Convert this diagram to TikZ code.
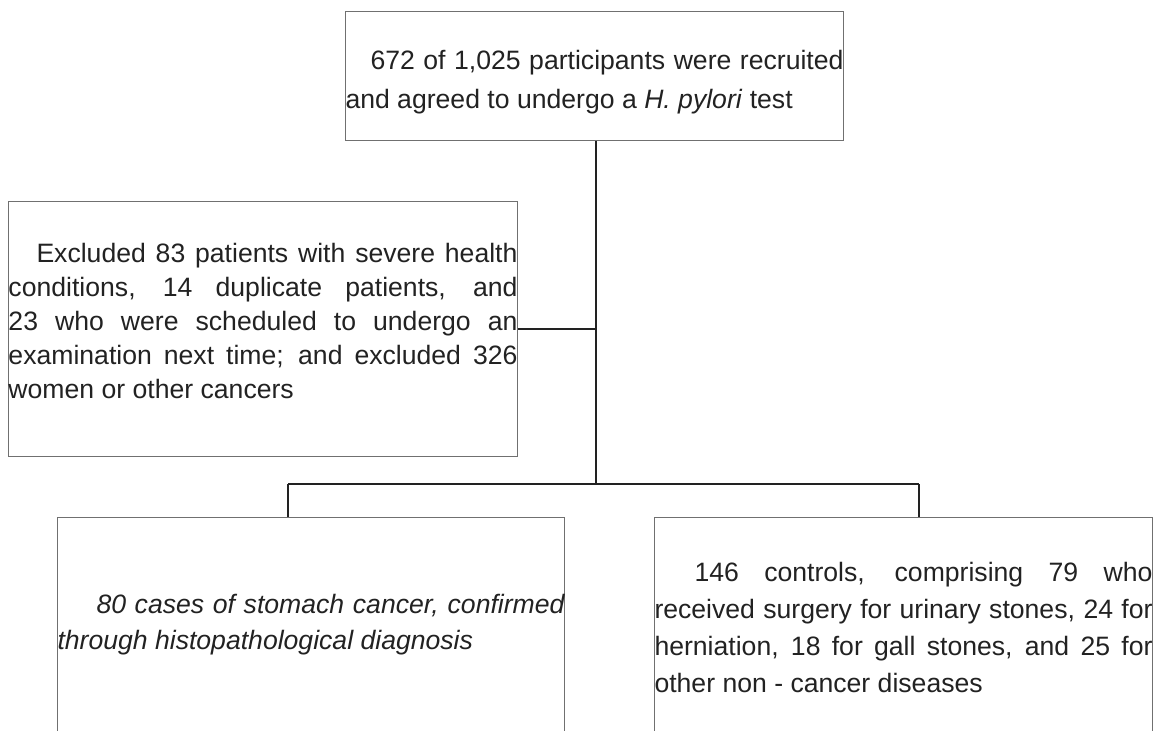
\documentclass[tikz,border=0pt]{standalone}
\usepackage{fontspec}
\setmainfont{Liberation Sans}
\definecolor{txt}{HTML}{222222}
\definecolor{boxgray}{HTML}{707070}
\definecolor{linkc}{HTML}{222222}
\tolerance=10000
\hbadness=10000
\hfuzz=2pt
\begin{document}
\begin{tikzpicture}[x=0.5pt,y=-0.5pt,
  box/.style={draw=boxgray, line width=0.5pt, anchor=north west, inner xsep=0pt, inner ysep=0pt,
    align=justify, text=txt},
  fs/.style={font=\fontsize{13.3pt}{#1}\selectfont},
  link/.style={draw=linkc, line width=1.2pt}]
\clip (0,0) rectangle (1161,730);
\fill[white] (0,0) rectangle (1161,730);
\node[box, fs=19.5pt, text width=249pt, minimum height=64.5pt] (top) at (345,11)
  {\noindent\hspace*{12.5pt}672 of 1,025 participants were recruited\linebreak and agreed to undergo a \textit{H. pylori} test\par\vspace*{-6pt}};
\node[box, fs=17pt, text width=254.5pt, minimum height=127.5pt] (excl) at (8,201)
  {\noindent\hspace*{14pt}Excluded 83 patients with severe health\linebreak conditions, 14 duplicate patients, and\linebreak 23 who were scheduled to undergo an\linebreak examination next time; and excluded 326\linebreak women or other cancers\par\vspace*{8pt}};
\node[box, fs=18pt, text width=253.5pt, minimum height=107pt] (cases) at (57,517)
  {\itshape\noindent\hspace*{19.5pt}80 cases of stomach cancer, confirmed\linebreak through histopathological diagnosis};
\node[box, fs=18.5pt, text width=249pt, minimum height=110pt] (controls) at (654,517)
  {\noindent\hspace*{20pt}146 controls, comprising 79 who\linebreak received surgery for urinary stones, 24 for\linebreak herniation, 18 for gall stones, and 25 for\linebreak other non - cancer diseases};
\coordinate (split) at (596,484);
\coordinate (bl) at (288,484);
\coordinate (br) at (919,484);
\draw[link] (top.south -| split) -- (split);
\draw[link] (excl.east) -- (excl.east -| split);
\draw[link] (bl) -- (br);
\draw[link] (bl) -- (bl |- cases.north);
\draw[link] (br) -- (br |- controls.north);
\end{tikzpicture}
\end{document}
